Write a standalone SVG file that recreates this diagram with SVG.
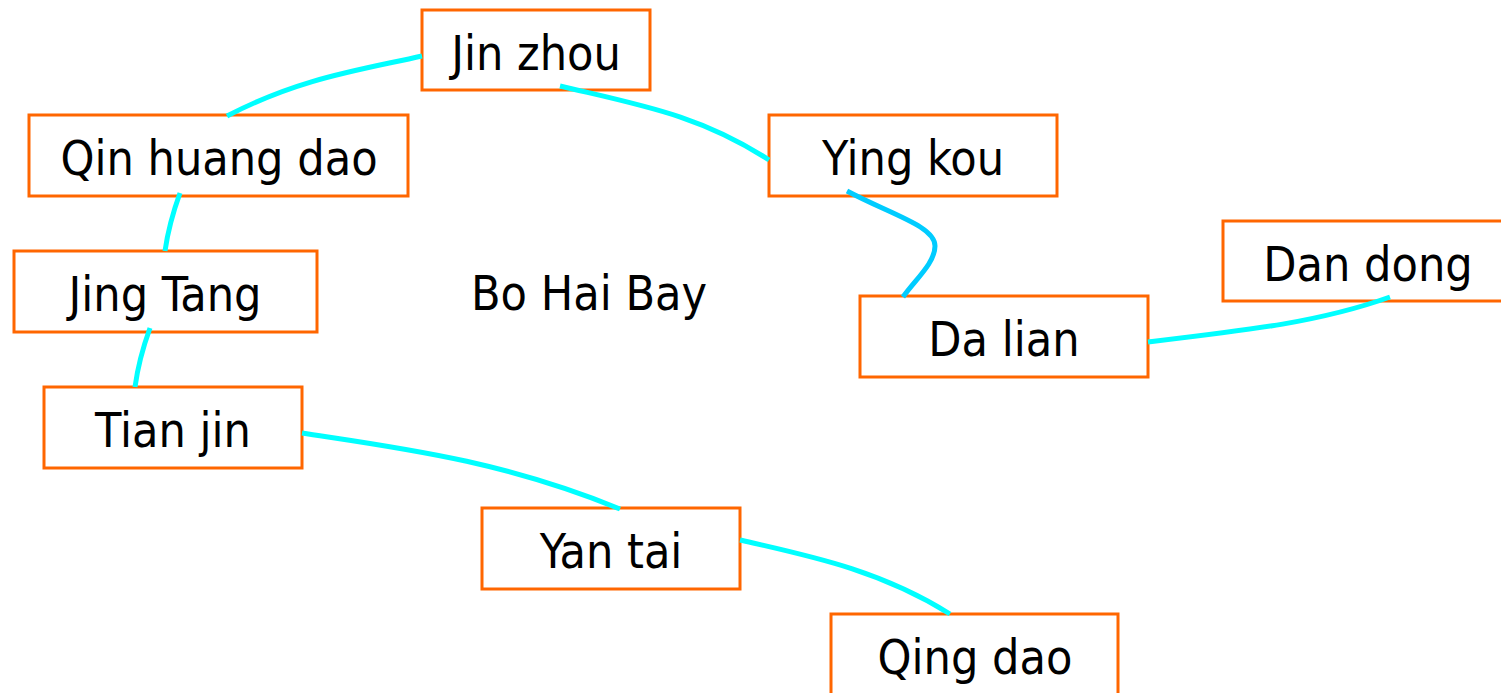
<svg xmlns="http://www.w3.org/2000/svg" width="1501" height="693" viewBox="0 0 1501 693">
<style>
.box{fill:#FFFFFF;stroke:#FF6600;stroke-width:3}
.lbl{font-family:"DejaVu Sans Condensed","DejaVu Sans",sans-serif;font-stretch:condensed;font-size:48px;fill:#000000;text-anchor:middle}
.c{fill:none;stroke:#00FFFF;stroke-width:5}
.c2{fill:none;stroke:#00CCFF;stroke-width:5}
</style>
<rect width="1501" height="693" fill="#FFFFFF"/>
<g id="jinzhou"><rect class="box" x="422" y="10" width="228" height="80"/><text class="lbl" x="536" y="70">Jin zhou</text></g>
<g id="qinhuangdao"><rect class="box" x="29" y="115" width="379" height="81"/><text class="lbl" x="219" y="175">Qin huang dao</text></g>
<g id="jingtang"><rect class="box" x="14" y="251" width="303" height="81"/><text class="lbl" x="165" y="311">Jing Tang</text></g>
<g id="tianjin"><rect class="box" x="44" y="387" width="258" height="81"/><text class="lbl" x="173" y="447">Tian jin</text></g>
<g id="yantai"><rect class="box" x="482" y="508" width="258" height="81"/><text class="lbl" x="611" y="568">Yan tai</text></g>
<g id="qingdao"><rect class="box" x="831" y="614" width="287" height="90"/><text class="lbl" x="975" y="674">Qing dao</text></g>
<g id="yingkou"><rect class="box" x="769" y="115" width="288" height="81"/><text class="lbl" x="913" y="175">Ying kou</text></g>
<g id="dalian"><rect class="box" x="860" y="296" width="288" height="81"/><text class="lbl" x="1004" y="356">Da lian</text></g>
<g id="dandong"><rect class="box" x="1223" y="221" width="290" height="80"/><text class="lbl" x="1368" y="281">Dan dong</text></g>
<g id="bohaibay"><text class="lbl" x="589" y="310">Bo Hai Bay</text></g>
<g id="connectors">
<path class="c" d="M422,56 C360,70 300,78 227,116"/>
<path class="c" d="M560,86 C640,105 700,115 769,160"/>
<path class="c" d="M180,193 C172,215 168,230 165,251"/>
<path class="c" d="M150,328 C142,350 138,365 135,387"/>
<path class="c" d="M302,433 C400,448 500,460 620,509"/>
<path class="c" d="M740,540 C810,556 880,570 950,614"/>
<path class="c2" d="M847,191 C890,214 935,226 935,246 C935,263 915,280 903,297"/>
<path class="c" d="M1148,342 C1250,330 1320,322 1390,297"/>
</g>
</svg>
